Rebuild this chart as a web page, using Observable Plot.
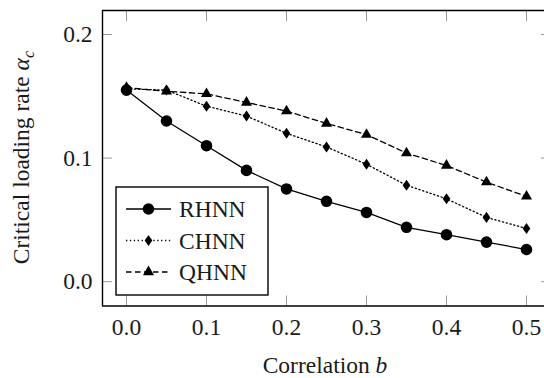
<!DOCTYPE html>
<html>
<head>
<meta charset="utf-8">
<script src="https://cdn.jsdelivr.net/npm/d3@7"></script>
<script src="https://cdn.jsdelivr.net/npm/@observablehq/plot@0.6"></script>
<style>
  html, body { margin: 0; padding: 0; background: #fff; }
  #chart svg { display: block; }
  #chart svg text, #chart svg tspan { font-family: 'Liberation Serif', serif !important; }
</style>
</head>
<body>
<div id="chart"></div>
<script>
// ---- data ----
const correlation = [0, 0.05, 0.1, 0.15, 0.2, 0.25, 0.3, 0.35, 0.4, 0.45, 0.5];
const rhnn = [0.155, 0.130, 0.110, 0.090, 0.075, 0.065, 0.056, 0.044, 0.038, 0.032, 0.026];
const chnn = [0.156, 0.155, 0.142, 0.134, 0.120, 0.109, 0.095, 0.078, 0.067, 0.052, 0.043];
const qhnn = [0.157, 0.154, 0.152, 0.145, 0.138, 0.128, 0.119, 0.104, 0.094, 0.0805, 0.069];
const seriesNames = ["RHNN", "CHNN", "QHNN"];
const xTicks = [0, 0.1, 0.2, 0.3, 0.4, 0.5];
const yTicks = [0, 0.1, 0.2];
const xLabel = "Correlation ";
const xLabelVar = "b";
const yLabel = "Critical loading rate ";
const xDomain = [-0.03, 0.5225];
const yDomain = [-0.0197, 0.2194];

// ---- marker shapes ----
const diamondSym = {
  draw(ctx, size) {
    const r = Math.sqrt(size / Math.PI);
    const h = r * 0.92, w = r * 0.64;
    ctx.moveTo(0, -h); ctx.lineTo(w, 0); ctx.lineTo(0, h); ctx.lineTo(-w, 0); ctx.closePath();
  }
};
const triangleSym = {
  draw(ctx, size) {
    const R = Math.sqrt(size / Math.PI);
    const s = Math.sqrt(3) / 2;
    ctx.moveTo(0, -R); ctx.lineTo(R * s, R / 2); ctx.lineTo(-R * s, R / 2); ctx.closePath();
  }
};

const styles = [
  {values: rhnn, dash: null, symbol: "circle", r: 5.8},
  {values: chnn, dash: "1.3,2.6", symbol: diamondSym, r: 6},
  {values: qhnn, dash: "5.5,3.5", symbol: triangleSym, r: 6.4}
];

// Liberation Serif is only picked below 24px in this environment
const FONT = "'Liberation Serif', serif";
const FS = 23.5;
const INK = "#1a1a1a";

const marks = [];
styles.forEach((s, k) => {
  const data = s.values.map((v, i) => ({x: correlation[i], y: v, series: seriesNames[k]}));
  marks.push(Plot.line(data, {x: "x", y: "y", stroke: "#000", strokeWidth: 1.3,
    strokeDasharray: s.dash || undefined}));
  marks.push(Plot.dot(data, {x: "x", y: "y", symbol: () => s.symbol, r: s.r, fill: "#000", stroke: "none"}));
});

// inward ticks on all four sides
marks.push(Plot.axisX(xTicks, {anchor: "bottom", tickSize: -10, stroke: "#999", strokeWidth: 1, text: null, label: null}));
marks.push(Plot.axisX(xTicks, {anchor: "top", tickSize: -10, stroke: "#999", strokeWidth: 1, text: null, label: null}));
marks.push(Plot.axisY(yTicks, {anchor: "left", tickSize: -10, stroke: "#999", strokeWidth: 1, text: null, label: null}));
marks.push(Plot.axisY(yTicks, {anchor: "right", tickSize: -4, stroke: "#999", strokeWidth: 1, text: null, label: null}));
// tick labels
marks.push(Plot.axisX(xTicks, {anchor: "bottom", tickSize: 0, tickPadding: 12, tickFormat: d3.format(".1f"), label: null, fill: INK, fontSize: FS}));
marks.push(Plot.axisY(yTicks, {anchor: "left", tickSize: 0, tickPadding: 10, tickFormat: d3.format(".1f"), label: null, fill: INK, fontSize: FS}));
// frame (left, top, bottom; the right edge falls outside the picture)
marks.push(Plot.ruleX([xDomain[0]], {stroke: "#000", strokeWidth: 1.4}));
marks.push(Plot.ruleY(yDomain, {stroke: "#000", strokeWidth: 1.4}));

const chart = Plot.plot({
  width: 544,
  height: 378,
  marginLeft: 102,
  marginRight: 0,
  marginTop: 10,
  marginBottom: 72.5,
  x: {domain: xDomain},
  y: {domain: yDomain},
  style: `font-family: ${FONT}; font-size: ${FS}px; color: ${INK}; background: #fff; overflow: hidden;`,
  marks
});

const svg = d3.select(chart);

// axis titles
const xt = svg.append("text")
  .attr("x", 325).attr("y", 373)
  .attr("text-anchor", "middle")
  .attr("font-family", FONT).attr("font-size", FS).attr("fill", INK);
xt.append("tspan").text(xLabel);
xt.append("tspan").attr("font-style", "italic").text(xLabelVar);

const yt = svg.append("text")
  .attr("transform", "translate(29,157.5) rotate(-90)")
  .attr("text-anchor", "middle")
  .attr("font-family", FONT).attr("font-size", FS).attr("fill", INK);
yt.append("tspan").text(yLabel);
yt.append("tspan").attr("font-style", "italic").text("α");
yt.append("tspan").attr("font-style", "italic").attr("font-size", FS * 0.7).attr("dy", 5).text("c");

// legend
const lg = svg.append("g");
lg.append("rect").attr("x", 116).attr("y", 187).attr("width", 152).attr("height", 108)
  .attr("fill", "#fff").attr("stroke", "#000").attr("stroke-width", 1.4);
const rowY = [209, 240.5, 272];
styles.forEach((s, k) => {
  const y = rowY[k];
  lg.append("line").attr("x1", 126).attr("x2", 171).attr("y1", y).attr("y2", y)
    .attr("stroke", "#000").attr("stroke-width", 1.3)
    .attr("stroke-dasharray", s.dash || null);
  const type = s.symbol === "circle" ? d3.symbolCircle : s.symbol;
  lg.append("path").attr("transform", `translate(148.5,${y})`)
    .attr("d", d3.symbol(type, s.r * s.r * Math.PI)()).attr("fill", "#000");
  lg.append("text").attr("x", 179).attr("y", y).attr("dy", "0.35em")
    .attr("text-anchor", "start")
    .attr("font-family", FONT).attr("font-size", FS).attr("fill", INK)
    .text(seriesNames[k]);
});

document.getElementById("chart").appendChild(chart);
</script>
</body>
</html>
